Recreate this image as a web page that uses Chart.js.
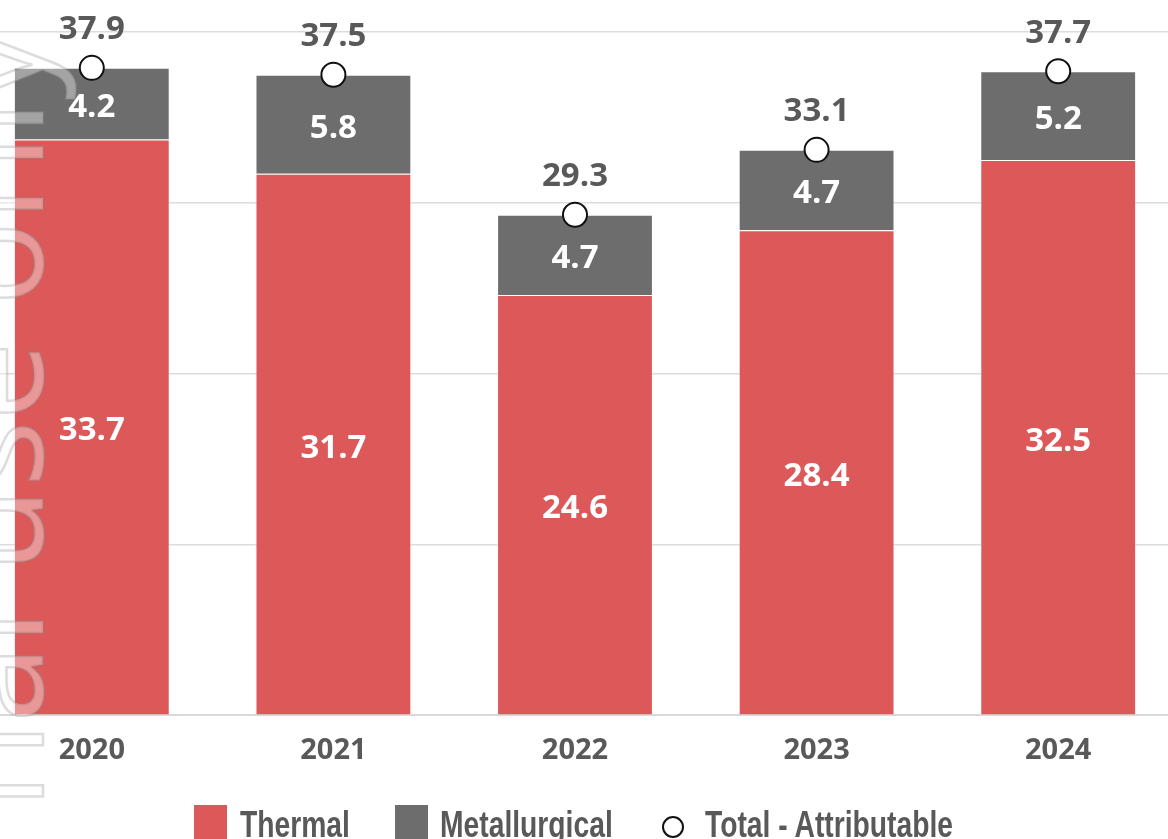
<!DOCTYPE html>
<html>
<head>
<meta charset="utf-8">
<title>Coal production</title>
<script src="https://cdn.jsdelivr.net/npm/chart.js@4.4.1/dist/chart.umd.min.js"></script>
<style>
  html, body { margin: 0; padding: 0; background: #fff; }
  body { width: 1168px; height: 839px; overflow: hidden; position: relative; }
  #wrap { position: absolute; left: -43px; top: 0; width: 1236px; height: 839px; }
  #legend { position: absolute; left: 0; top: 0; width: 1168px; height: 839px; pointer-events: none;
    font-family: "Liberation Sans", Arial, sans-serif; font-weight: bold; font-size: 36px; color: #595959; }
  #legend .box { position: absolute; top: 805px; width: 33px; height: 34px; }
  #legend .dot { position: absolute; top: 816px; width: 18px; height: 18px; border: 2px solid #111;
    border-radius: 50%; background: #fff; }
  #legend .txt { position: absolute; top: 805px; line-height: 40px; white-space: nowrap;
    transform: scaleX(0.785); transform-origin: left top; }
</style>
</head>
<body>
<div id="wrap"><canvas id="chart"></canvas></div>
<div id="legend"></div>
<script>
const years = ['2020', '2021', '2022', '2023', '2024'];
const thermal = [33.7, 31.7, 24.6, 28.4, 32.5];
const metallurgical = [4.2, 5.8, 4.7, 4.7, 5.2];
const totalAttributable = [37.9, 37.5, 29.3, 33.1, 37.7];
const yTicks = [0, 10, 20, 30, 40];

const RED = '#DD5858';
const GREY = '#6D6D6D';
const TEXT = '#595959';

// value labels + the faint watermark on the left edge
const labelPlugin = {
  id: 'labels',
  afterDatasetsDraw(chart) {
    const ctx = chart.ctx;
    const left = chart.canvas.parentNode.offsetLeft; // canvas starts off-screen

    ctx.save();
    ctx.translate(43 - left, 30);
    ctx.rotate(-Math.PI / 2);
    ctx.font = '140px "Open Sans"';
    ctx.textAlign = 'right';
    ctx.textBaseline = 'alphabetic';
    ctx.fillStyle = 'rgba(255,255,255,0.38)';
    ctx.fillText('Internal use only', 0, 0);
    ctx.lineWidth = 2.5;
    ctx.strokeStyle = 'rgba(140,140,140,0.3)';
    ctx.strokeText('Internal use only', 0, 0);
    ctx.restore();

    ctx.save();
    ctx.textAlign = 'center';
    ctx.textBaseline = 'middle';
    ctx.font = 'bold 33px "Open Sans"';
    [0, 1].forEach(di => {
      const meta = chart.getDatasetMeta(di);
      meta.data.forEach((bar, i) => {
        const v = chart.data.datasets[di].data[i];
        ctx.fillStyle = '#fff';
        ctx.fillText(v.toFixed(1), bar.x, (bar.y + bar.base) / 2 + 4);
      });
    });
    const tm = chart.getDatasetMeta(2);
    tm.data.forEach((pt, i) => {
      ctx.fillStyle = TEXT;
      ctx.fillText(totalAttributable[i].toFixed(1), pt.x, pt.y - 38);
    });
    ctx.restore();
  }
};

new Chart(document.getElementById('chart'), {
  data: {
    labels: years,
    datasets: [
      { type: 'bar', label: 'Thermal', data: thermal, backgroundColor: RED,
        borderColor: 'rgba(255,255,255,0.35)', borderWidth: 1, stack: 'coal', order: 2 },
      { type: 'bar', label: 'Metallurgical', data: metallurgical, backgroundColor: GREY,
        borderColor: 'rgba(255,255,255,0.35)', borderWidth: 1, stack: 'coal', order: 2 },
      { type: 'line', label: 'Total - Attributable', data: totalAttributable, stack: 'total',
        showLine: false, pointRadius: 12, pointHoverRadius: 12, pointBackgroundColor: '#fff',
        pointBorderColor: '#111', pointBorderWidth: 2, order: 1 }
    ]
  },
  options: {
    responsive: true,
    maintainAspectRatio: false,
    animation: false,
    layout: { padding: { top: 32, bottom: 61, left: 0, right: 0 } },
    datasets: { bar: { barPercentage: 0.645, categoryPercentage: 1 } },
    plugins: { legend: { display: false }, tooltip: { enabled: false } },
    scales: {
      x: {
        stacked: true,
        grid: { display: false },
        border: { display: true, color: '#D9D9D9', width: 2 },
        ticks: { color: TEXT, font: { family: 'Open Sans', weight: 'bold', size: 29 }, padding: 10 }
      },
      y: {
        stacked: true,
        min: yTicks[0],
        max: yTicks[yTicks.length - 1],
        afterBuildTicks: axis => { axis.ticks = yTicks.map(v => ({ value: v })); },
        grid: { color: '#DCDCDC', lineWidth: 1.5, drawTicks: false },
        border: { display: false },
        ticks: { display: false }
      }
    }
  },
  plugins: [labelPlugin]
});

// legend built from the same series names
const legend = document.getElementById('legend');
const legendItems = [
  { name: 'Thermal', color: RED, kind: 'box', markX: 194, textX: 240 },
  { name: 'Metallurgical', color: GREY, kind: 'box', markX: 395, textX: 440 },
  { name: 'Total - Attributable', color: null, kind: 'dot', markX: 662, textX: 705 }
];
legendItems.forEach(it => {
  const mark = document.createElement('div');
  mark.className = it.kind;
  mark.style.left = it.markX + 'px';
  if (it.color) mark.style.background = it.color;
  const txt = document.createElement('div');
  txt.className = 'txt';
  txt.style.left = it.textX + 'px';
  txt.textContent = it.name;
  legend.appendChild(mark);
  legend.appendChild(txt);
});
</script>
</body>
</html>
